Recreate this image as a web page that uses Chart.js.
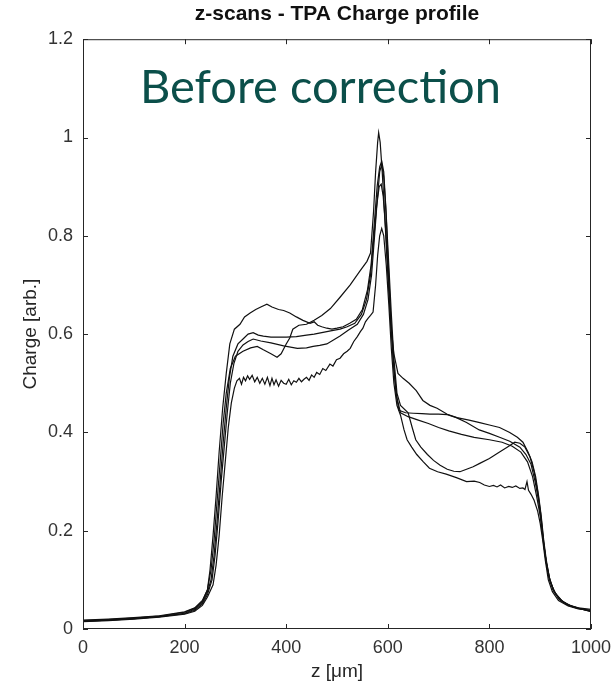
<!DOCTYPE html>
<html>
<head>
<meta charset="utf-8">
<script src="https://cdn.jsdelivr.net/npm/chart.js@4.4.0/dist/chart.umd.min.js"></script>
<style>
  html, body { margin: 0; padding: 0; background: #fff; }
  #wrap { position: relative; width: 615px; height: 688px; }
  #note {
    position: absolute; left: 140px; top: 56px;
    font-family: Lato, 'Open Sans', sans-serif; font-size: 47px; line-height: 58px;
    color: #0b4f4a; white-space: nowrap;
  }
</style>
</head>
<body>
<div id="wrap">
  <canvas id="chart" width="615" height="688"></canvas>
  <div id="note">Before correction</div>
</div>
<script>
// z positions [um] and charge [arb.]
const zA = [0,50,100,150,200,220,235,245,250,256,262,268,275,282,289,298,309,318,329,340,350,362,372,385,395,407,420,433,447,455,462,470,480,490,500,512,525,538,550,560,567,573,579,584,588,592,596,601,606,611,616,622,635,650,667,683,700,717,735,755,780,800,820,840,860,872,882,890,897,902,907,913,920,930,945,965,1000];
const qA = [0.017,0.019,0.022,0.026,0.034,0.042,0.056,0.08,0.12,0.19,0.27,0.36,0.45,0.52,0.58,0.61,0.62,0.635,0.643,0.65,0.655,0.661,0.655,0.65,0.648,0.643,0.635,0.628,0.622,0.625,0.618,0.615,0.612,0.61,0.612,0.615,0.622,0.63,0.65,0.69,0.74,0.82,0.9,0.94,0.952,0.93,0.86,0.74,0.63,0.54,0.48,0.445,0.44,0.439,0.438,0.437,0.437,0.436,0.43,0.42,0.405,0.398,0.39,0.382,0.37,0.355,0.335,0.3,0.26,0.22,0.17,0.13,0.095,0.072,0.055,0.045,0.036];

const zB = [0,50,100,150,200,220,235,245,252,258,264,270,276,282,290,300,315,330,343,355,370,382,390,400,407,413,425,440,455,470,487,506,526,545,559,566,572,576,580,582,585,589,594,600,606,612,620,630,642,656,669,683,697,717,736,760,781,800,820,840,855,866,876,884,891,897,902,907,912,918,926,938,955,975,1000];
const qB = [0.018,0.02,0.023,0.027,0.035,0.043,0.058,0.08,0.12,0.18,0.26,0.34,0.42,0.48,0.53,0.555,0.565,0.572,0.575,0.568,0.56,0.553,0.56,0.58,0.592,0.61,0.618,0.62,0.628,0.638,0.652,0.675,0.7,0.728,0.748,0.765,0.85,0.93,0.99,1.01,0.99,0.93,0.84,0.72,0.62,0.56,0.52,0.51,0.5,0.485,0.465,0.455,0.449,0.437,0.43,0.425,0.42,0.415,0.41,0.4,0.39,0.38,0.36,0.34,0.31,0.27,0.23,0.18,0.14,0.105,0.08,0.06,0.048,0.042,0.037];

const zC = [0,50,100,150,200,220,235,245,252,258,264,270,276,282,288,295,305,315,325,335,345,355,370,385,400,420,440,455,470,490,506,520,535,548,558,566,572,578,583,587,591,596,601,606,612,618,625,640,660,680,700,720,745,770,800,825,845,862,875,885,893,900,906,912,919,928,942,960,1000];
const qC = [0.016,0.018,0.021,0.025,0.032,0.04,0.054,0.075,0.1,0.15,0.22,0.3,0.38,0.45,0.51,0.555,0.58,0.59,0.6,0.603,0.598,0.596,0.594,0.594,0.594,0.595,0.598,0.6,0.603,0.607,0.61,0.615,0.622,0.64,0.67,0.72,0.79,0.86,0.9,0.905,0.88,0.81,0.72,0.62,0.53,0.47,0.44,0.432,0.425,0.418,0.41,0.403,0.396,0.39,0.385,0.38,0.372,0.36,0.34,0.31,0.27,0.23,0.18,0.135,0.1,0.075,0.058,0.047,0.035];

const zD = [0,50,100,150,200,220,235,245,254,260,266,272,278,284,290,297,305,315,325,335,350,370,395,422,440,453,466,480,493,506,522,540,552,561,568,574,579,584,588,592,597,602,607,612,618,625,640,648,655,665,678,690,703,717,730,742,755,768,781,800,820,835,850,860,870,880,888,895,901,906,911,917,925,937,955,975,1000];
const qD = [0.016,0.018,0.021,0.025,0.031,0.038,0.051,0.07,0.1,0.15,0.22,0.3,0.37,0.44,0.5,0.54,0.565,0.578,0.585,0.59,0.586,0.582,0.576,0.571,0.572,0.575,0.577,0.58,0.588,0.596,0.608,0.62,0.64,0.67,0.72,0.8,0.87,0.93,0.945,0.92,0.84,0.74,0.64,0.55,0.48,0.455,0.44,0.41,0.385,0.37,0.355,0.343,0.333,0.325,0.321,0.32,0.325,0.33,0.337,0.347,0.36,0.37,0.38,0.378,0.37,0.35,0.32,0.28,0.235,0.185,0.14,0.105,0.08,0.061,0.049,0.043,0.04];

const zF = [0,50,100,150,200,220,235,245,256,262,268,274,280,286,292,298,303,308,312,316,320,324,328,333,338,343,348,353,358,363,368,372,376,380,385,390,395,400,405,410,415,420,425,430,435,440,445,450,455,460,466,472,478,486,492,499,506,513,520,526,533,540,546,551,556,561,566,571,576,580,584,588,592,597,602,607,612,618,625,632,638,647,657,670,682,698,715,735,755,770,781,790,800,808,815,822,830,838,845,852,860,866,870,874,877,882,888,895,900,905,910,916,924,936,955,975,1000];
const qF = [0.015,0.017,0.02,0.024,0.03,0.036,0.048,0.065,0.09,0.13,0.19,0.27,0.34,0.41,0.46,0.49,0.505,0.51,0.498,0.512,0.505,0.515,0.508,0.516,0.503,0.512,0.5,0.51,0.498,0.512,0.495,0.51,0.497,0.507,0.494,0.506,0.5,0.498,0.508,0.497,0.505,0.502,0.51,0.503,0.508,0.512,0.506,0.517,0.512,0.522,0.518,0.53,0.526,0.539,0.535,0.548,0.551,0.56,0.565,0.571,0.585,0.595,0.605,0.612,0.625,0.632,0.638,0.645,0.7,0.76,0.8,0.815,0.8,0.74,0.66,0.57,0.5,0.455,0.435,0.405,0.385,0.37,0.355,0.34,0.327,0.32,0.315,0.308,0.3,0.301,0.298,0.293,0.29,0.292,0.289,0.293,0.287,0.29,0.288,0.291,0.286,0.287,0.284,0.3,0.282,0.274,0.262,0.24,0.215,0.18,0.14,0.1,0.076,0.058,0.047,0.041,0.038];

const scans = [[zA, qA], [zB, qB], [zC, qC], [zD, qD], [zF, qF]];

// MATLAB-like box with inward ticks
const boxFrame = {
  id: 'boxFrame',
  afterDatasetsDraw(chart) {
    const { ctx, chartArea: a, scales: { x, y } } = chart;
    ctx.save();
    ctx.strokeStyle = '#262626';
    ctx.lineWidth = 1;
    ctx.strokeRect(a.left + 0.5, a.top + 0.5, a.width - 1, a.height - 1);
    ctx.beginPath();
    x.ticks.forEach(t => {
      const px = Math.round(x.getPixelForValue(t.value)) + 0.5;
      ctx.moveTo(px, a.bottom); ctx.lineTo(px, a.bottom - 5);
      ctx.moveTo(px, a.top); ctx.lineTo(px, a.top + 5);
    });
    y.ticks.forEach(t => {
      const py = Math.round(y.getPixelForValue(t.value)) + 0.5;
      ctx.moveTo(a.left, py); ctx.lineTo(a.left + 5, py);
      ctx.moveTo(a.right, py); ctx.lineTo(a.right - 5, py);
    });
    ctx.stroke();
    ctx.restore();
  }
};

const font = 'Liberation Sans, Arial, Helvetica, sans-serif';

new Chart(document.getElementById('chart'), {
  type: 'line',
  data: {
    datasets: scans.map(([z, q]) => ({
      data: z.map((v, i) => ({ x: v, y: q[i] })),
      borderColor: '#111',
      borderWidth: 1.2,
      pointRadius: 0,
      tension: 0,
      fill: false
    }))
  },
  options: {
    responsive: false,
    animation: false,
    layout: { padding: { left: 0, right: 24, top: 0, bottom: 0 } },
    plugins: {
      legend: { display: false },
      tooltip: { enabled: false },
      title: {
        display: true,
        fullSize: false,
        text: 'z-scans - TPA Charge profile',
        color: '#111',
        font: { family: font, size: 21, weight: 'bold' },
        padding: { top: 2, bottom: 12 }
      }
    },
    scales: {
      x: {
        type: 'linear',
        min: 0, max: 1000,
        grid: { display: false, drawTicks: false },
        border: { display: false },
        ticks: { stepSize: 200, color: '#333', padding: 8, maxRotation: 0, font: { family: font, size: 18 },
                 callback: v => String(v) },
        title: { display: true, text: 'z [μm]', color: '#262626', font: { family: font, size: 19 }, padding: { top: 0, bottom: 5 } },
        afterFit(s) { s.height = 59; s.paddingLeft = 0; s.paddingRight = 0; }
      },
      y: {
        min: 0, max: 1.2,
        grid: { display: false, drawTicks: false },
        border: { display: false },
        ticks: { stepSize: 0.2, color: '#333', padding: 10, font: { family: font, size: 18 },
                 callback: v => String(Math.round(v * 10) / 10) },
        title: { display: true, text: 'Charge [arb.]', color: '#262626', font: { family: font, size: 19 }, padding: { top: 19, bottom: 0 } },
        afterFit(s) { s.width = 83; }
      }
    }
  },
  plugins: [boxFrame]
});
</script>
</body>
</html>
